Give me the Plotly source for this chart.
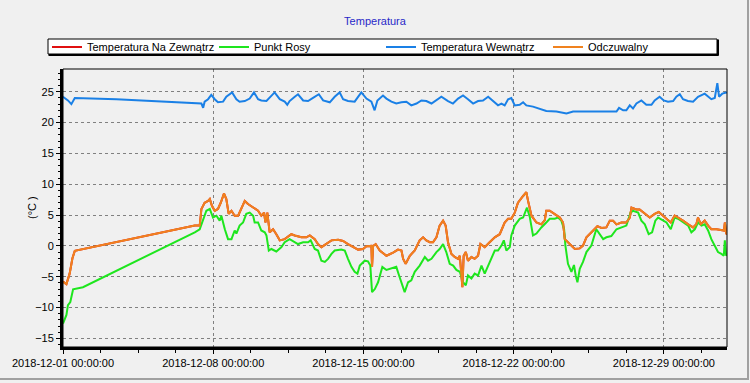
import pandas as pd
import plotly.graph_objects as go

START = pd.Timestamp("2018-12-01 00:00:00")
END_DAY = 30.94

# ---- data (days since 2018-12-01, value in °C) ----
dew_days = [0.00, 0.16, 0.23, 0.34, 0.47, 0.93, 6.14, 6.37, 6.68, 6.84, 6.99, 7.15, 7.30, 7.38, 7.54, 7.69,
            7.85, 8.00, 8.08, 8.23, 8.39, 8.54, 8.70, 8.86, 8.93, 9.09, 9.24, 9.40, 9.48, 9.59, 9.71, 9.94,
            10.18, 10.33, 10.56, 10.72, 10.95, 11.19, 11.42, 11.54, 11.73, 11.88, 12.04, 12.20, 12.35, 12.51,
            12.66, 12.97, 13.13, 13.28, 13.44, 13.59, 13.72, 13.83, 13.98, 14.06, 14.21, 14.32, 14.40, 14.53,
            14.68, 14.88, 15.07, 15.30, 15.53, 15.66, 15.77, 15.92, 16.08, 16.23, 16.39, 16.62, 16.86, 17.01,
            17.17, 17.40, 17.55, 17.71, 17.86, 18.02, 18.18, 18.33, 18.49, 18.64, 18.77, 18.87, 19.03, 19.18,
            19.34, 19.50, 19.65, 19.81, 19.96, 20.12, 20.27, 20.43, 20.54, 20.66, 20.82, 20.89, 21.05, 21.28,
            21.44, 21.62, 21.75, 21.90, 22.06, 22.29, 22.52, 22.68, 22.91, 23.07, 23.22, 23.35, 23.41, 23.53,
            23.69, 23.81, 23.89, 23.97, 24.08, 24.23, 24.39, 24.62, 24.85, 25.01, 25.17, 25.32, 25.55, 25.79,
            26.02, 26.25, 26.45, 26.56, 26.80, 26.95, 27.11, 27.29, 27.45, 27.60, 27.73, 27.96, 28.12, 28.32,
            28.50, 28.66, 28.89, 29.13, 29.28, 29.44, 29.59, 29.75, 29.90, 30.06, 30.21, 30.37, 30.52, 30.68,
            30.79, 30.84, 30.90, 30.94]
dew_vals = [-12.6, -11.2, -9.6, -9.1, -7.05, -6.7, 2.2, 2.7, 5.7, 6.0, 4.6, 4.9, 4.1, 4.9, 2.7, 1.1,
            1.1, 2.5, 2.0, 3.3, 3.8, 5.2, 5.4, 4.9, 3.8, 3.8, 2.5, 2.2, 1.7, -0.75, -0.5, -0.9,
            -0.2, 0.6, 1.1, 0.8, 0.3, 0.6, 0.6, 0.9, -0.5, -0.75, -2.4, -2.6, -2.1, -1.3,
            -0.75, -0.6, -0.75, -2.1, -3.4, -4.2, -4.5, -3.2, -2.6, -2.4, -2.5, -3.2, -7.5, -7.0,
            -5.9, -3.4, -3.9, -3.7, -3.4, -4.8, -5.9, -7.5, -5.9, -5.6, -4.2, -3.2, -1.8, -2.4,
            -2.1, -1.0, -0.5, 0.3, -1.0, -2.9, -3.2, -3.9, -4.2, -5.9, -6.4, -4.8, -5.3, -4.5,
            -4.8, -3.2, -4.5, -3.2, -1.8, -0.75, -0.75, 0.05, 0.9, -0.75, -0.2, 1.7, 3.3, 4.4,
            4.6, 6.2, 4.7, 1.7, 2.0, 3.0, 3.8, 4.4, 4.4, 4.6, 4.1, 2.7, 0.05, -2.9,
            -4.2, -3.1, -4.8, -5.9, -3.7, -2.6, -1.0, 0.05, 2.7, 1.9, 1.1, 1.4, 1.6, 2.7,
            3.0, 3.3, 5.4, 5.7, 5.4, 4.1, 3.5, 1.9, 2.2, 4.1, 4.6, 4.1, 3.8, 2.7,
            4.6, 4.4, 3.8, 3.3, 2.2, 2.7, 3.8, 3.3, 3.5, 2.5, 1.1, 0.05, -1.0, -1.3,
            -1.6, 0.9, -1.6, -1.4]

feel_days = [0.00, 0.16, 0.31, 0.44, 0.55, 6.14, 6.37, 6.45, 6.60, 6.76, 6.84, 6.94, 7.07, 7.22, 7.35, 7.50,
             7.61, 7.72, 7.85, 8.00, 8.16, 8.31, 8.47, 8.62, 8.86, 9.09, 9.24, 9.37, 9.43, 9.52, 9.63, 9.79,
             9.94, 10.10, 10.33, 10.56, 10.64, 10.80, 11.11, 11.34, 11.50, 11.73, 11.88, 12.04, 12.27, 12.51,
             12.82, 13.05, 13.28, 13.52, 13.75, 13.98, 14.14, 14.37, 14.40, 14.45, 14.57, 14.76, 15.07, 15.38,
             15.61, 15.77, 15.85, 15.97, 16.16, 16.39, 16.62, 16.78, 16.93, 17.09, 17.24, 17.40, 17.55, 17.71,
             17.83, 17.94, 18.10, 18.25, 18.41, 18.49, 18.61, 18.67, 18.77, 18.87, 19.03, 19.18, 19.34, 19.45,
             19.65, 19.88, 20.12, 20.35, 20.58, 20.74, 20.89, 21.05, 21.20, 21.44, 21.59, 21.67, 21.83, 22.06,
             22.29, 22.45, 22.52, 22.68, 22.91, 23.15, 23.30, 23.38, 23.61, 23.85, 24.08, 24.23, 24.39, 24.62,
             24.78, 24.90, 25.09, 25.32, 25.48, 25.63, 25.79, 26.02, 26.25, 26.41, 26.49, 26.72, 26.87, 27.11,
             27.34, 27.57, 27.76, 27.96, 28.12, 28.32, 28.50, 28.66, 28.89, 29.13, 29.36, 29.51, 29.59, 29.72,
             29.90, 30.06, 30.21, 30.45, 30.68, 30.80, 30.84, 30.91, 30.94]
feel_vals = [-5.8, -6.2, -4.5, -2.0, -0.8, 3.3, 3.3, 6.0, 7.0, 7.3, 7.6, 6.5, 5.7, 6.0, 7.0, 8.5,
             7.6, 5.2, 5.7, 4.9, 4.9, 6.0, 7.3, 6.8, 6.2, 5.7, 4.9, 5.4, 3.8, 5.4, 2.2, 2.7,
             1.9, 0.9, 1.1, 1.7, 1.9, 1.7, 1.4, 1.4, 1.7, 1.1, 0.3, -0.2, 0.3, 0.9,
             1.0, 0.8, 0.3, -0.2, -0.6, -0.5, -0.05, 0.0, -3.4, 0.0, 0.3, -0.75, -1.6, -1.1,
             -0.6, -0.75, -2.1, -2.9, -1.6, -0.75, 0.9, 1.4, 0.9, 0.6, 0.6, 1.4, 3.3, 4.1,
             3.3, 0.6, -1.3, -1.8, -2.1, -1.6, -6.7, -1.6, -1.0, -2.4, -1.8, -2.1, -1.6, 0.3,
             -0.2, 0.6, 1.4, 1.9, 3.8, 4.4, 4.4, 5.4, 7.0, 8.1, 8.7, 7.3, 4.9, 3.8,
             3.5, 4.2, 5.7, 5.7, 5.2, 4.6, 3.8, 1.1, 0.3, -0.5, -0.4, 0.05, 1.4, 2.2,
             2.7, 3.2, 2.9, 3.0, 4.1, 4.1, 3.5, 3.8, 3.8, 4.6, 6.2, 5.9, 5.9, 5.2,
             4.6, 5.2, 5.5, 4.9, 4.4, 3.8, 4.9, 4.6, 4.1, 3.5, 3.0, 3.5, 4.6, 3.5,
             4.1, 3.3, 2.7, 2.7, 2.5, 2.5, 3.8, 1.9, 2.0]

# outside temperature is hidden exactly beneath the "feels like" line
out_days = list(feel_days)
out_vals = list(feel_vals)

in_days = [0.00, 0.23, 0.39, 0.55, 2.49, 4.43, 6.45, 6.53, 6.60, 6.76, 6.91, 7.07, 7.22, 7.46, 7.61, 7.88,
           8.08, 8.23, 8.47, 8.70, 8.90, 9.09, 9.24, 9.48, 9.86, 10.10, 10.33, 10.45, 10.56, 10.80, 10.95,
           11.19, 11.42, 11.65, 11.92, 12.12, 12.43, 12.66, 12.89, 13.05, 13.28, 13.59, 13.90, 14.14, 14.37,
           14.52, 14.65, 14.91, 15.07, 15.30, 15.53, 15.77, 16.00, 16.23, 16.47, 16.70, 16.93, 17.17, 17.40,
           17.63, 17.94, 18.17, 18.41, 18.64, 18.87, 19.11, 19.34, 19.57, 19.81, 20.04, 20.27, 20.43, 20.58,
           20.74, 20.89, 21.05, 21.28, 21.44, 21.59, 21.90, 22.21, 22.52, 22.99, 23.46, 23.77, 25.79, 25.91,
           26.10, 26.25, 26.41, 26.56, 26.72, 26.95, 27.18, 27.42, 27.57, 27.80, 27.99, 28.19, 28.43, 28.58,
           28.74, 28.89, 29.12, 29.36, 29.59, 29.90, 30.06, 30.21, 30.37, 30.49, 30.57, 30.72, 30.91, 30.94]
in_vals = [24.2, 23.6, 23.0, 24.0, 23.8, 23.4, 23.1, 22.4, 23.4, 23.8, 24.5, 23.8, 23.3, 23.4, 24.2, 24.9,
           23.8, 23.4, 23.5, 23.9, 24.9, 23.8, 23.6, 23.5, 24.9, 23.8, 23.4, 22.9, 23.5, 24.2, 24.6,
           23.6, 23.5, 24.0, 24.6, 23.6, 23.3, 24.2, 24.9, 23.8, 23.5, 23.4, 24.9, 23.9, 23.4,
           22.0, 23.6, 24.4, 23.9, 23.4, 23.1, 23.3, 23.4, 22.8, 23.1, 23.6, 23.5, 23.1, 23.6,
           24.2, 23.5, 23.1, 23.9, 24.4, 23.8, 23.1, 23.5, 23.6, 24.2, 23.5, 22.8, 23.1, 22.8,
           23.8, 24.0, 22.8, 22.9, 23.3, 22.8, 22.6, 22.2, 21.9, 21.8, 21.5, 21.8, 21.8, 22.4,
           22.0, 22.0, 22.8, 22.3, 23.1, 23.6, 22.9, 22.9, 23.6, 24.2, 23.6, 23.4, 23.5, 24.2,
           24.6, 23.8, 23.5, 23.4, 24.2, 24.7, 24.2, 23.8, 24.0, 26.4, 24.2, 24.7, 24.9, 24.9]

series_names = ["Temperatura Na Zewnątrz", "Punkt Rosy", "Temperatura Wewnątrz", "Odczuwalny"]
series_colors = ["#e01010", "#1ee61e", "#1a80e6", "#f0821e"]
y_ticks = [-15, -10, -5, 0, 5, 10, 15, 20, 25]


def to_time(days):
    return START + pd.to_timedelta(days, unit="D")


fig = go.Figure()
for name, color, d, v in zip(series_names, series_colors,
                             [out_days, dew_days, in_days, feel_days],
                             [out_vals, dew_vals, in_vals, feel_vals]):
    fig.add_trace(go.Scatter(x=to_time(d), y=v, mode="lines", name=name,
                             line=dict(color=color, width=2)))

# geometry helpers (figure 750x383, plot area 63..727 x 69..347)
L, R, T, B = 63, 727, 69, 347
W, H = R - L, B - T
def px(x):
    return (x - L) / W
def py(y):
    return (B - y) / H

shapes = [
    dict(type="rect", xref="paper", yref="paper", x0=0, x1=1, y0=0, y1=1,
         line=dict(color="black", width=1), layer="above"),
    dict(type="rect", xref="paper", yref="paper", x0=px(48), x1=px(717), y0=py(54), y1=py(39),
         line=dict(color="black", width=1), fillcolor="white", layer="below"),
    dict(type="line", xref="paper", yref="paper", x0=px(718), x1=px(718), y0=py(55.5), y1=py(39.5),
         line=dict(color="black", width=2)),
    dict(type="line", xref="paper", yref="paper", x0=px(48.5), x1=px(718.5), y0=py(55), y1=py(55),
         line=dict(color="black", width=2)),
    dict(type="line", xref="paper", yref="paper", x0=px(748), x1=px(748), y0=py(0), y1=py(379),
         line=dict(color="#a0a0a0", width=2)),
    dict(type="line", xref="paper", yref="paper", x0=px(0), x1=px(749), y0=py(379), y1=py(379),
         line=dict(color="#a0a0a0", width=2)),
]

fig.update_layout(
    width=750, height=383,
    margin=dict(l=L, r=750 - R, t=T, b=383 - B, pad=0),
    paper_bgcolor="#f0f0f0", plot_bgcolor="#f0f0f0",
    font=dict(family="Liberation Sans, Arial, sans-serif", size=11, color="#000000"),
    title=dict(text="Temperatura", x=0.5, xref="container", xanchor="center",
               y=1 - 21 / 383, yref="container", yanchor="middle",
               font=dict(size=11, color="#2828c8")),
    showlegend=True,
    legend=dict(orientation="h", x=px(47), xanchor="left", y=py(47), yanchor="middle",
                bgcolor="rgba(0,0,0,0)", borderwidth=0, entrywidth=122, entrywidthmode="pixels",
                font=dict(size=11), traceorder="normal", tracegroupgap=0, itemwidth=30),
    shapes=shapes,
    annotations=[dict(text="(°C )", xref="paper", yref="paper", x=px(32), y=0.5,
                      textangle=-90, showarrow=False, font=dict(size=11),
                      xanchor="center", yanchor="middle")],
)

fig.update_xaxes(
    type="date",
    range=[START, to_time(END_DAY)],
    tick0=START, dtick=7 * 86400000,
    tickformat="%Y-%m-%d %H:%M:%S",
    tickfont=dict(size=11),
    ticks="outside", ticklen=4, tickcolor="black",
    showgrid=True, gridcolor="#808080", gridwidth=1, griddash="3px,3px",
    showline=True, linecolor="black", linewidth=3,
    minor=dict(dtick=1.75 * 86400000, tick0=START, ticks="outside", ticklen=3,
               tickcolor="black", showgrid=False),
    zeroline=False,
)
fig.update_yaxes(
    range=[-16.4, 28.7],
    tickvals=y_ticks,
    tickfont=dict(size=11),
    ticks="outside", ticklen=4, tickcolor="black",
    showgrid=True, gridcolor="#808080", gridwidth=1, griddash="3px,3px",
    showline=True, linecolor="black", linewidth=3,
    minor=dict(dtick=1, tick0=0, ticks="outside", ticklen=2, tickcolor="black", showgrid=False),
    zeroline=False,
)

fig.write_html("out.html", config={"displayModeBar": False},
               post_script="document.body.style.margin='0';document.body.style.overflow='hidden';")
